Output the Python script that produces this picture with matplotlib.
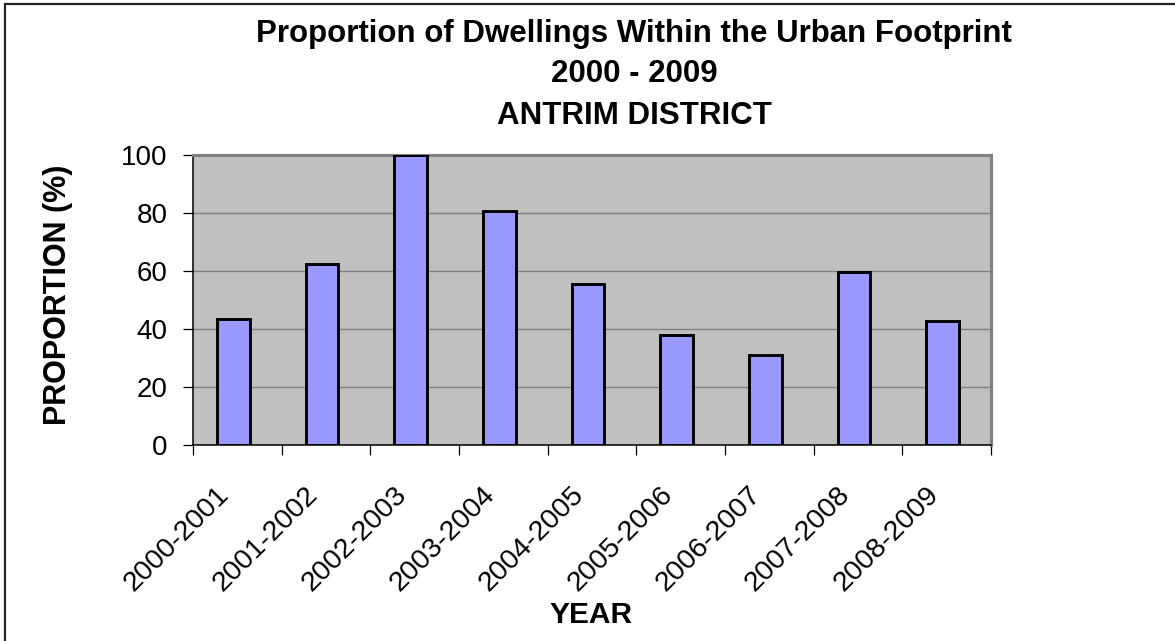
import matplotlib
matplotlib.use("Agg")
import matplotlib.pyplot as plt
import matplotlib.transforms as mtransforms
from matplotlib.patches import Rectangle
import numpy as np

categories = ["2000-2001", "2001-2002", "2002-2003", "2003-2004", "2004-2005",
              "2005-2006", "2006-2007", "2007-2008", "2008-2009"]
values = [43.6, 62.3, 100.0, 80.7, 55.5, 37.8, 31.1, 59.7, 42.9]
yticks = [0, 20, 40, 60, 80, 100]
title_lines = ["Proportion of Dwellings Within the Urban Footprint", "2000 - 2009", "ANTRIM DISTRICT"]

plt.rcParams['font.family'] = ['Liberation Sans', 'DejaVu Sans']

W, H = 1175, 641
fig = plt.figure(figsize=(W / 100, H / 100), dpi=100)
fig.patch.set_facecolor('white')

# outer chart border (left and top visible)
fig.patches.append(Rectangle((4.5 / W, -0.2), 1.3, 1.2 - 4 / H,
                             transform=fig.transFigure, fill=False,
                             edgecolor='#222222', linewidth=1.6))

ax = fig.add_axes([193 / W, 1 - 445 / H, 798 / W, 290 / H])
ax.set_facecolor('#C0C0C0')

x = np.arange(len(categories))
ax.bar(x - 0.045, values, width=0.37, color='#9999FF', edgecolor='black',
       linewidth=2.1, zorder=3)

ax.set_xlim(-0.5, len(categories) - 0.5)
ax.set_ylim(0, 100)
ax.set_yticks(yticks)
ax.set_yticklabels([str(v) for v in yticks], fontsize=20)
ax.yaxis.grid(True, color='#808080', linewidth=1.0, zorder=0)
ax.set_axisbelow(True)

# x ticks at category boundaries (minor), labels at centers (major, no tick)
ax.set_xticks(np.arange(-0.5, len(categories)), minor=True)
ax.set_xticks(x)
ax.set_xticklabels(categories, fontsize=20.5, rotation=45, ha='right',
                   va='center', rotation_mode='anchor')
ax.tick_params(axis='x', which='major', length=0, pad=33)
ax.tick_params(axis='x', which='minor', length=7.2, width=0.9, direction='out', color='black')
ax.tick_params(axis='y', length=7.2, width=0.9, direction='out', color='black', pad=11)

offset = mtransforms.ScaledTranslation(-12 / 100, 0, fig.dpi_scale_trans)
for lab in ax.get_xticklabels():
    lab.set_transform(lab.get_transform() + offset)

for side in ['left', 'bottom']:
    ax.spines[side].set_color('black')
    ax.spines[side].set_linewidth(1.1)
for side in ['top', 'right']:
    ax.spines[side].set_color('#808080')
    ax.spines[side].set_linewidth(2.2)

# titles
baselines = [42, 82, 124]
for line, yb in zip(title_lines, baselines):
    fig.text(634 / W, 1 - yb / H, line, ha='center', va='baseline',
             fontsize=22.5, fontweight='bold')

fig.text(58 / W, 1 - 295 / H, "PROPORTION (%)", rotation=90, ha='center',
         va='center', fontsize=22, fontweight='bold')
fig.text(591 / W, 1 - 623 / H, "YEAR", ha='center', va='baseline',
         fontsize=21.5, fontweight='bold')

fig.savefig("out.png", dpi=100, facecolor='white')
